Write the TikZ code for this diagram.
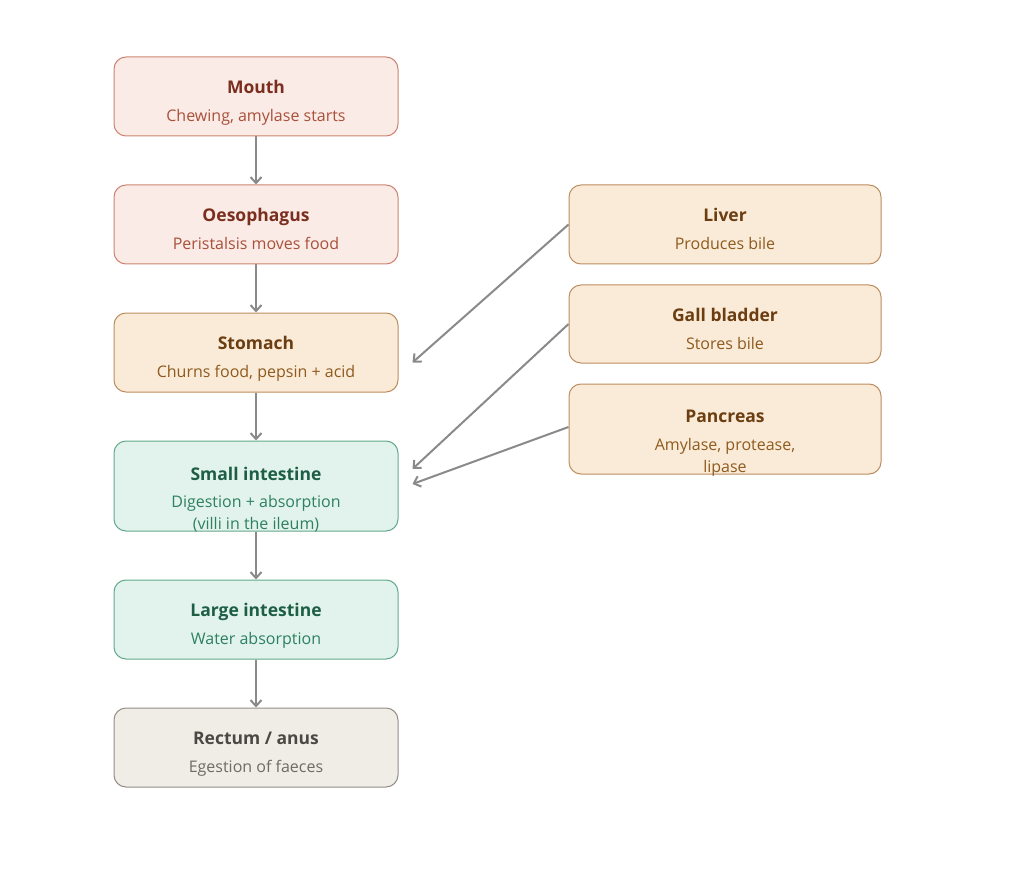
\documentclass[tikz,border=0pt]{standalone}
\usepackage{fontspec}
\setmainfont{Open Sans}
\usepackage{xcolor}
\definecolor{GUTpinkfill}{HTML}{FAEBE6}
\definecolor{GUTpinkline}{HTML}{CC8470}
\definecolor{GUTpinkhead}{HTML}{7A2E1E}
\definecolor{GUTpinktext}{HTML}{A9503A}
\definecolor{GUTtanfill}{HTML}{FAEBD8}
\definecolor{GUTtanline}{HTML}{BC8D5E}
\definecolor{GUTtanhead}{HTML}{6B3D10}
\definecolor{GUTtantext}{HTML}{8E5A1E}
\definecolor{GUTgreenfill}{HTML}{E1F3EC}
\definecolor{GUTgreenline}{HTML}{63A98A}
\definecolor{GUTgreenhead}{HTML}{1D5E45}
\definecolor{GUTgreentext}{HTML}{2E8062}
\definecolor{GUTgreyfill}{HTML}{F0EDE7}
\definecolor{GUTgreyline}{HTML}{928E86}
\definecolor{GUTgreyhead}{HTML}{4A4844}
\definecolor{GUTgreytext}{HTML}{6E6B66}
\definecolor{GUTarrow}{HTML}{8A8A8A}
\usepackage{tikz}
\usetikzlibrary{arrows.meta, positioning}

\begin{document}
\begin{tikzpicture}[x=1pt, y=-1pt]
    \tikzset{
  organ/.style={rectangle, rounded corners=12pt, line width=1pt,
    minimum width=284pt, minimum height=79pt, inner sep=0},
  helper/.style={organ, minimum width=312pt},
  pinkbox/.style={fill=GUTpinkfill, draw=GUTpinkline},
  tanbox/.style={fill=GUTtanfill, draw=GUTtanline},
  greenbox/.style={fill=GUTgreenfill, draw=GUTgreenline},
  greybox/.style={fill=GUTgreyfill, draw=GUTgreyline},
  headlab/.style={font=\fontsize{17.5}{20}\selectfont\bfseries, inner sep=0, anchor=base},
  sublab/.style={font=\fontsize{16}{22}\selectfont, inner sep=0, anchor=base},
  passarrow/.style={-{Straight Barb[length=6pt, width=11pt]}, GUTarrow, line width=2pt},
}
\useasboundingbox (0,0) rectangle (1024,882);

% ── Alimentary canal ────────────────────────────────────────
\node[organ, pinkbox] (mouth) at (256, 96.5) {};
\node[headlab, GUTpinkhead] at ([yshift=-37pt]mouth.north) {Mouth};
\node[sublab, GUTpinktext] at ([yshift=-65pt]mouth.north) {Chewing, amylase starts};

\node[organ, pinkbox] (oeso) at (256, 224.5) {};
\node[headlab, GUTpinkhead] at ([yshift=-37pt]oeso.north) {Oesophagus};
\node[sublab, GUTpinktext] at ([yshift=-65pt]oeso.north) {Peristalsis moves food};

\node[organ, tanbox] (stomach) at (256, 352.5) {};
\node[headlab, GUTtanhead] at ([yshift=-37pt]stomach.north) {Stomach};
\node[sublab, GUTtantext] at ([yshift=-65pt]stomach.north) {Churns food, pepsin + acid};

\node[organ, greenbox, minimum height=90pt] (small) at (256, 486) {};
\node[headlab, GUTgreenhead] at ([yshift=-40pt]small.north) {Small intestine};
\node[sublab, GUTgreentext] at ([yshift=-67pt]small.north) {Digestion + absorption};
\node[sublab, GUTgreentext] at ([yshift=-89pt]small.north) {(villi in the ileum)};

\node[organ, greenbox] (large) at (256, 619.5) {};
\node[headlab, GUTgreenhead] at ([yshift=-37pt]large.north) {Large intestine};
\node[sublab, GUTgreentext] at ([yshift=-65pt]large.north) {Water absorption};

\node[organ, greybox] (rectum) at (256, 747.5) {};
\node[headlab, GUTgreyhead] at ([yshift=-37pt]rectum.north) {Rectum / anus};
\node[sublab, GUTgreytext] at ([yshift=-65pt]rectum.north) {Egestion of faeces};

% ── Accessory organs ────────────────────────────────────────
\node[helper, tanbox] (liver) at (725, 224.5) {};
\node[headlab, GUTtanhead] at ([yshift=-37pt]liver.north) {Liver};
\node[sublab, GUTtantext] at ([yshift=-65pt]liver.north) {Produces bile};

\node[helper, tanbox, minimum height=78pt] (gall) at (725, 324) {};
\node[headlab, GUTtanhead] at ([yshift=-37pt]gall.north) {Gall bladder};
\node[sublab, GUTtantext] at ([yshift=-65pt]gall.north) {Stores bile};

\node[helper, tanbox, minimum height=90pt] (pancreas) at (725, 429) {};
\node[headlab, GUTtanhead] at ([yshift=-39pt]pancreas.north) {Pancreas};
\node[sublab, GUTtantext] at ([yshift=-67pt]pancreas.north) {Amylase, protease,};
\node[sublab, GUTtantext] at ([yshift=-89pt]pancreas.north) {lipase};

% ── Food path ───────────────────────────────────────────────
\draw[passarrow] (mouth) -- (oeso);
\draw[passarrow] (oeso) -- (stomach);
\draw[passarrow] (stomach) -- (small);
\draw[passarrow] (small) -- (large);
\draw[passarrow] (large) -- (rectum);

% ── Secretions ──────────────────────────────────────────────
\draw[passarrow] (liver.west) -- ([xshift=14pt, yshift=-10pt]stomach.east);
\draw[passarrow] (gall.west) -- ([xshift=14pt, yshift=17pt]small.east);
\draw[passarrow] ([yshift=2pt]pancreas.west) -- ([xshift=14pt, yshift=2pt]small.east);

  \end{tikzpicture}
\end{document}
